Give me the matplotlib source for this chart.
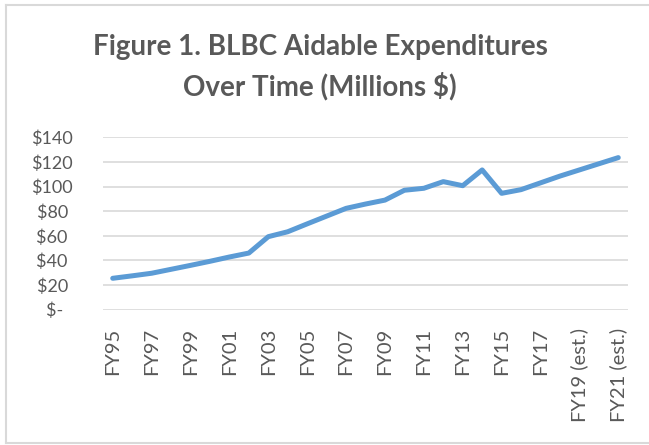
import numpy as np
import matplotlib.pyplot as plt
from matplotlib.lines import Line2D

years = ['FY95', 'FY96', 'FY97', 'FY98', 'FY99', 'FY00', 'FY01', 'FY02', 'FY03',
         'FY04', 'FY05', 'FY06', 'FY07', 'FY08', 'FY09', 'FY10', 'FY11', 'FY12',
         'FY13', 'FY14', 'FY15', 'FY16', 'FY17', 'FY18 (est.)', 'FY19 (est.)',
         'FY20 (est.)', 'FY21 (est.)']
spending = [25.5, 27.5, 29.6, 32.8, 36.0, 39.3, 42.8, 46.0, 59.3,
            63.3, 69.7, 76.0, 82.3, 85.8, 89.0, 97.0, 98.6, 104.0,
            100.7, 113.5, 94.5, 97.5, 103.0, 108.5, 113.5, 118.5, 123.5]
y_ticks = [0, 20, 40, 60, 80, 100, 120, 140]
y_labels = ['$-  ', '$20 ', '$40 ', '$60 ', '$80 ', '$100', '$120', '$140']

plt.rcParams['font.family'] = ['Lato', 'DejaVu Sans']
grey = '#595959'

fig = plt.figure(figsize=(6.49, 4.45), dpi=100)
ax = fig.add_axes([103 / 649, 1 - 309.7 / 445, 525 / 649, 172.4 / 445])

x = np.arange(len(years))
ax.plot(x, spending, color='#5B9BD5', linewidth=3.6, solid_capstyle='round',
        solid_joinstyle='round', zorder=3)

ax.set_xlim(-0.5, len(years) - 0.5)
ax.set_ylim(0, 140)
ax.set_yticks(y_ticks)
ax.set_yticklabels(y_labels, fontsize=13, color=grey)
ax.set_xticks(x[::2])
ax.set_xticklabels(years[::2], rotation=90, fontsize=14.5, color=grey)
ax.tick_params(length=0)
ax.tick_params(axis='y', pad=22)
ax.tick_params(axis='x', pad=13)
ax.grid(axis='y', color='#D9D9D9', linewidth=1.2)
ax.set_axisbelow(True)
for s in ax.spines.values():
    s.set_visible(False)

fig.text(320 / 649, 1 - 47 / 445, 'Figure 1. BLBC Aidable Expenditures',
         ha='center', va='center', fontsize=20, fontweight='bold', color=grey)
fig.text(320 / 649, 1 - 86 / 445, 'Over Time (Millions $)',
         ha='center', va='center', fontsize=20, fontweight='bold', color=grey)

# chart border (left, top, bottom edges)
bx0, by0, by1 = 5.5 / 649, 1 - 442.5 / 445, 1 - 4.5 / 445
for xs, ys in [([bx0, bx0], [by0, by1]), ([bx0, 1.0], [by1, by1]), ([bx0, 1.0], [by0, by0])]:
    fig.add_artist(Line2D(xs, ys, color='#D9D9D9', linewidth=1.5))

fig.savefig('out.png', dpi=100)
